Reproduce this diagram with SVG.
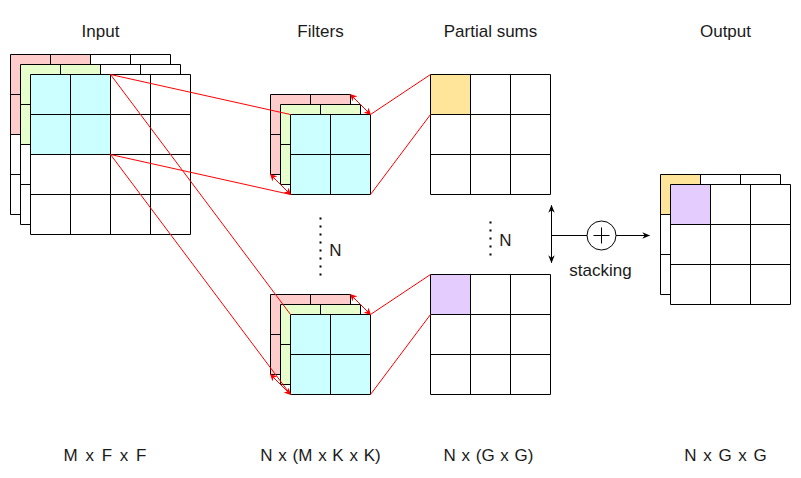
<svg xmlns="http://www.w3.org/2000/svg" width="801" height="478" viewBox="0 0 801 478">
<style>
.g{fill:none;stroke:#000;stroke-width:1}
.bg{fill:#fff}
.r{fill:#FFCCCC}.gr{fill:#E6FFCC}.c{fill:#CCFFFF}.y{fill:#FFE599}.p{fill:#E5CCFF}
.t{font-family:"Liberation Sans",Arial,sans-serif;font-size:17px;fill:#1a1a1a;text-anchor:middle}
.rl{stroke:#FF0000;stroke-width:1;fill:none}
.ra{stroke:#FF0000;stroke-width:1;fill:none;marker-start:url(#rh);marker-end:url(#rh)}
.bl{stroke:#000;stroke-width:1;fill:none}
.dot{stroke:#000;stroke-width:2;stroke-dasharray:2 6;fill:none}
</style>
<defs>
<marker id="rh" viewBox="0 0 10 10" refX="9" refY="5" markerWidth="7" markerHeight="7" markerUnits="userSpaceOnUse" orient="auto-start-reverse"><path d="M0 0L10 5L0 10L3 5z" fill="#FF0000"/></marker>
<marker id="bh" viewBox="0 0 10 10" refX="9" refY="5" markerWidth="8" markerHeight="8" markerUnits="userSpaceOnUse" orient="auto-start-reverse"><path d="M0 1L10 5L0 9L3 5z" fill="#000"/></marker>
</defs>
<g transform="translate(0.5,0.5)">
<g id="titles">
<text class="t" x="100" y="36">Input</text>
<text class="t" x="320" y="36">Filters</text>
<text class="t" x="490" y="36">Partial sums</text>
<text class="t" x="725" y="36">Output</text>
</g>
<g id="input">
<rect class="bg" x="10" y="54" width="160" height="160"/><rect class="r" x="10" y="54" width="80" height="80"/>
<path class="g" d="M10 54h160v160h-160z M50 54v160 M90 54v160 M130 54v160 M10 94h160 M10 134h160 M10 174h160"/>
<rect class="bg" x="20" y="64" width="160" height="160"/><rect class="gr" x="20" y="64" width="80" height="80"/>
<path class="g" d="M20 64h160v160h-160z M60 64v160 M100 64v160 M140 64v160 M20 104h160 M20 144h160 M20 184h160"/>
<rect class="bg" x="30" y="74" width="160" height="160"/><rect class="c" x="30" y="74" width="80" height="80"/>
<path class="g" d="M30 74h160v160h-160z M70 74v160 M110 74v160 M150 74v160 M30 114h160 M30 154h160 M30 194h160"/>
</g>
<g id="filter-top">
<rect class="r" x="270" y="94" width="80" height="80"/>
<path class="g" d="M270 94h80v80h-80z M310 94v80 M270 134h80"/>
<rect class="gr" x="280" y="104" width="80" height="80"/>
<path class="g" d="M280 104h80v80h-80z M320 104v80 M280 144h80"/>
<rect class="c" x="290" y="114" width="80" height="80"/>
<path class="g" d="M290 114h80v80h-80z M330 114v80 M290 154h80"/>
</g>
<g id="filter-bottom">
<rect class="r" x="270" y="294" width="80" height="80"/>
<path class="g" d="M270 294h80v80h-80z M310 294v80 M270 334h80"/>
<rect class="gr" x="280" y="304" width="80" height="80"/>
<path class="g" d="M280 304h80v80h-80z M320 304v80 M280 344h80"/>
<rect class="c" x="290" y="314" width="80" height="80"/>
<path class="g" d="M290 314h80v80h-80z M330 314v80 M290 354h80"/>
</g>
<g id="psum-top">
<rect class="bg" x="430" y="74" width="120" height="120"/><rect class="y" x="430" y="74" width="40" height="40"/>
<path class="g" d="M430 74h120v120h-120z M470 74v120 M510 74v120 M430 114h120 M430 154h120"/>
</g>
<g id="psum-bottom">
<rect class="bg" x="430" y="274" width="120" height="120"/><rect class="p" x="430" y="274" width="40" height="40"/>
<path class="g" d="M430 274h120v120h-120z M470 274v120 M510 274v120 M430 314h120 M430 354h120"/>
</g>
<g id="output">
<rect class="bg" x="660" y="174" width="120" height="120"/><rect class="y" x="660" y="174" width="40" height="40"/>
<path class="g" d="M660 174h120v120h-120z M700 174v120 M740 174v120 M660 214h120 M660 254h120"/>
<rect class="bg" x="670" y="184" width="120" height="120"/><rect class="p" x="670" y="184" width="40" height="40"/>
<path class="g" d="M670 184h120v120h-120z M710 184v120 M750 184v120 M670 224h120 M670 264h120"/>
</g>
<g id="sum-op">
<circle cx="601" cy="235" r="14.5" fill="#fff" stroke="#000"/>
<path class="bl" d="M593 235h16 M601 227v16"/>
</g>
<g id="connectors">
<path class="rl" d="M110 74L290 114 M110 74L290 314 M110 154L290 194 M110 154L290 394"/>
<path class="rl" d="M370 114L430 74 M370 194L430 114 M370 314L430 274 M370 394L430 314"/>
<path class="ra" d="M350 94L370 114"/>
<path class="ra" d="M270 174L290 194"/>
<path class="ra" d="M350 294L370 314"/>
<path class="ra" d="M270 374L290 394"/>
<path class="dot" d="M320 217V276"/>
<path class="dot" d="M490 221V256"/>
<path class="bl" d="M551 205V262" style="marker-start:url(#bh);marker-end:url(#bh)"/>
<path class="bl" d="M551 235H586.5"/>
<path class="bl" d="M615.5 235H649" style="marker-end:url(#bh)"/>
</g>
<g id="labels">
<text class="t" x="335" y="255">N</text>
<text class="t" x="505" y="245">N</text>
<text class="t" x="600" y="275">stacking</text>
<text class="t" x="104.5" y="460" word-spacing="3">M x F x F</text>
<text class="t" x="320" y="460" word-spacing="1">N x (M x K x K)</text>
<text class="t" x="488" y="460" word-spacing="1">N x (G x G)</text>
<text class="t" x="725" y="460" word-spacing="2">N x G x G</text>
</g>
</g>
</svg>
